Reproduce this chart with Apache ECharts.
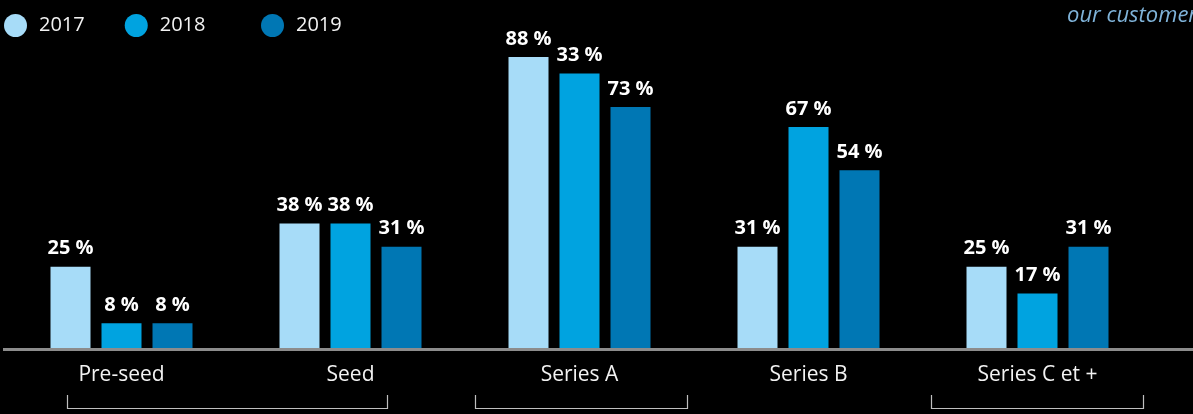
<!DOCTYPE html>
<html>
<head>
<meta charset="utf-8">
<script src="https://cdn.jsdelivr.net/npm/echarts@6/dist/echarts.min.js"></script>
<style>
  html, body { margin: 0; padding: 0; background: #000; }
  #chart { width: 1193px; height: 414px; }
</style>
</head>
<body>
<div id="chart"></div>
<script>
// rounds of funding
const categories = ['Pre-seed', 'Seed', 'Series A', 'Series B', 'Series C et +'];
const years = ['2017', '2018', '2019'];
const colors = ['#a7dcf8', '#00a3e0', '#0077b4'];

// bar heights
const values2017 = [25, 38, 88, 31, 25];
const values2018 = [8, 38, 83, 67, 17];
const values2019 = [8, 31, 73, 54, 31];

// printed labels (the Series A 2018 label does not match its bar)
const labels2017 = ['25 %', '38 %', '88 %', '31 %', '25 %'];
const labels2018 = ['8 %', '38 %', '33 %', '67 %', '17 %'];
const labels2019 = ['8 %', '31 %', '73 %', '54 %', '31 %'];

const seriesValues = [values2017, values2018, values2019];
const seriesLabels = [labels2017, labels2018, labels2019];

const font = '"Open Sans", "Noto Sans", sans-serif';

const chart = echarts.init(document.getElementById('chart'));

const legendBase = {
  top: 9,
  icon: 'circle',
  itemWidth: 23,
  itemHeight: 23,
  itemGap: 40,
  textStyle: { color: '#f2f2f2', fontSize: 20, fontFamily: font, padding: [0, 0, 0, 7] }
};

const option = {
  backgroundColor: '#000',
  animation: false,
  legend: [
    Object.assign({}, legendBase, { left: -1, data: years.slice(0, 2) }),
    Object.assign({}, legendBase, { left: 256, data: years.slice(2) })
  ],
  grid: { left: 7, right: 41, top: 17, bottom: 64 },
  xAxis: {
    type: 'category',
    data: categories,
    axisLine: { show: false },
    axisTick: { show: false },
    axisLabel: { color: '#f2f2f2', fontSize: 21, fontFamily: font, margin: 15 }
  },
  yAxis: {
    type: 'value',
    min: 0,
    max: 100,
    show: false,
    splitLine: { show: false }
  },
  graphic: [
    { type: 'line', shape: { x1: 3, y1: 349.5, x2: 1193, y2: 349.5 }, style: { stroke: '#8c8c8c', lineWidth: 3 }, z: 10 },
    { type: 'polyline', shape: { points: [[67.5, 395], [67.5, 408.5], [387.5, 408.5], [387.5, 395]] }, style: { stroke: '#bfbfbf', lineWidth: 1.2, fill: null } },
    { type: 'polyline', shape: { points: [[475.5, 395], [475.5, 408.5], [687.5, 408.5], [687.5, 395]] }, style: { stroke: '#bfbfbf', lineWidth: 1.2, fill: null } },
    { type: 'polyline', shape: { points: [[931.5, 395], [931.5, 408.5], [1143.5, 408.5], [1143.5, 395]] }, style: { stroke: '#bfbfbf', lineWidth: 1.2, fill: null } },
    { type: 'text', left: 1067, top: 5, style: { text: 'our customers', fill: '#7fb3d9', fontSize: 22, fontStyle: 'italic', fontFamily: font } }
  ],
  series: years.map((y, i) => ({
    name: y,
    type: 'bar',
    data: seriesValues[i],
    barWidth: 40,
    barGap: '27.5%',
    itemStyle: { color: colors[i] },
    label: {
      show: true,
      position: 'top',
      distance: 8,
      color: '#fff',
      fontSize: 20,
      fontWeight: 'bold',
      fontFamily: font,
      formatter: p => seriesLabels[i][p.dataIndex]
    }
  }))
};

chart.setOption(option);
</script>
</body>
</html>
